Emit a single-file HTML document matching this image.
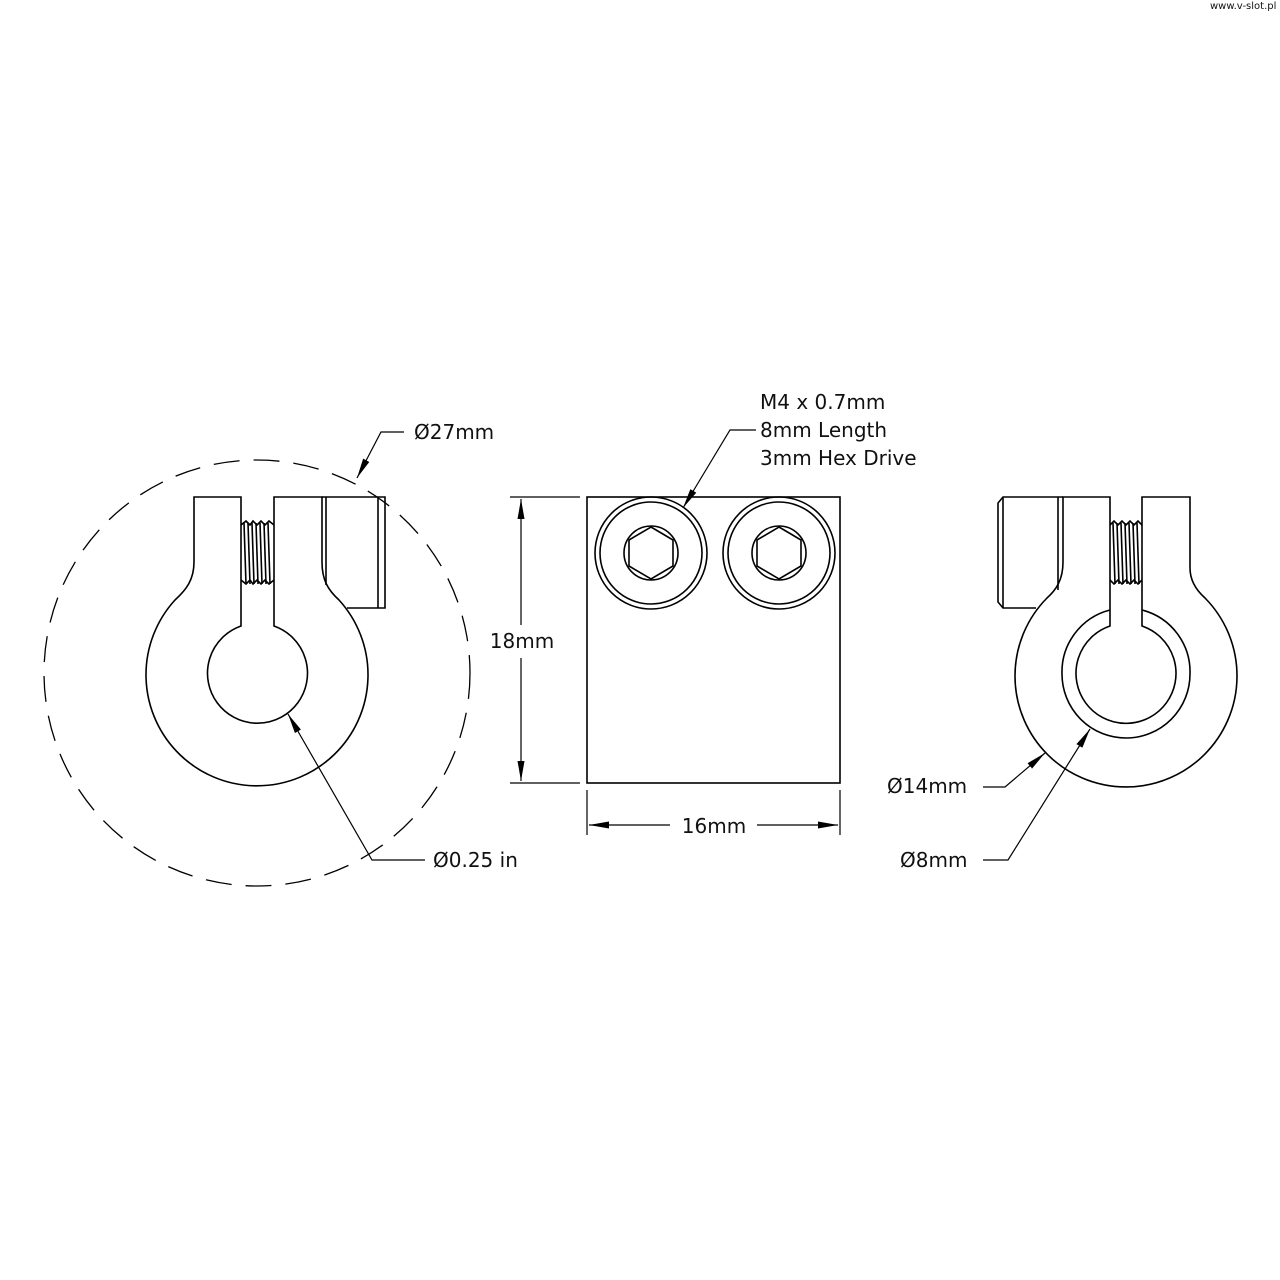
<!DOCTYPE html>
<html><head><style>
html,body{margin:0;padding:0;background:#fff}
svg{display:block}
text{font-family:"DejaVu Sans","Liberation Sans",sans-serif;font-size:20px;fill:#111}
</style></head><body>
<svg width="1280" height="1280" viewBox="0 0 1280 1280" xmlns="http://www.w3.org/2000/svg">
<defs>
<marker id="ar" viewBox="0 0 20 8" refX="20" refY="4" markerWidth="20" markerHeight="8" markerUnits="userSpaceOnUse" orient="auto"><path d="M0,0.5 L20,4 L0,7.5 z" fill="#000"/></marker>
</defs>
<text x="1210" y="9" style="font-size:10px">www.v-slot.pl</text>
<g fill="none" stroke="#000" stroke-width="1.6">
<!-- LEFT VIEW -->
<circle cx="257" cy="673" r="213" stroke-dasharray="26,14" stroke-width="1.3"/>
<path d="M194,497 L194,562 C194,580 186,590 175,600 A111,111 0 1 0 339,600 C328,590 322,580 322,562 L322,497 L274,497 L274,626 A50,50 0 1 1 241,626 L241,497 Z"/>
<path d="M322,497 L385,497 L385,608 L347,608"/>
<line x1="326" y1="497" x2="326" y2="585"/>
<line x1="378" y1="497" x2="378" y2="608"/>
<g stroke-width="1.6">
<path d="M241,525 L246,521 L250,525 L253,521 L257,525 L261,521 L265,525 L269,521 L274,525"/>
<path d="M241,580 L246,584 L250,580 L253,584 L257,580 L261,584 L265,580 L269,584 L274,580"/>
<line x1="244" y1="523" x2="246" y2="584"/><line x1="248" y1="523" x2="250" y2="584"/>
<line x1="252" y1="523" x2="254" y2="584"/><line x1="256" y1="523" x2="258" y2="584"/>
<line x1="260" y1="523" x2="262" y2="584"/><line x1="264" y1="523" x2="266" y2="584"/>
<line x1="268" y1="523" x2="270" y2="584"/>
</g>
<!-- MIDDLE VIEW -->
<rect x="587" y="497" width="253" height="286"/>
<g id="scr">
<circle cx="651" cy="553" r="56"/>
<circle cx="651" cy="553" r="51"/>
<circle cx="651" cy="553" r="27"/>
<polygon points="651,527 673,540 673,566 651,579 629,566 629,540"/>
</g>
<use href="#scr" x="128"/>
<line x1="510" y1="497" x2="580" y2="497" stroke-width="1.2"/>
<line x1="510" y1="783" x2="580" y2="783" stroke-width="1.2"/>
<line x1="521" y1="625" x2="521" y2="499" stroke-width="1.2" marker-end="url(#ar)"/>
<line x1="521" y1="658" x2="521" y2="781" stroke-width="1.2" marker-end="url(#ar)"/>
<line x1="587" y1="790" x2="587" y2="835" stroke-width="1.2"/>
<line x1="840" y1="790" x2="840" y2="835" stroke-width="1.2"/>
<line x1="670" y1="825" x2="589" y2="825" stroke-width="1.2" marker-end="url(#ar)"/>
<line x1="757" y1="825" x2="838" y2="825" stroke-width="1.2" marker-end="url(#ar)"/>
<polyline points="756,430 730,430 683,508" stroke-width="1.2" marker-end="url(#ar)"/>
<!-- left leaders -->
<polyline points="404,432 381,432 357,478" stroke-width="1.2" marker-end="url(#ar)"/>
<polyline points="425,860 372,860 288,714" stroke-width="1.2" marker-end="url(#ar)"/>
<!-- RIGHT VIEW -->
<path d="M1063,497 L1063,562 C1063,580 1056,590 1047,598 A111,111 0 1 0 1205,598 C1196,590 1190,580 1190,568 L1190,497 L1142,497 L1142,626 A50,50 0 1 1 1110,626 L1110,497 Z"/>
<path d="M1110,610 A64,64 0 0 0 1062,674 A64,64 0 0 0 1190,674 A64,64 0 0 0 1142,610"/>
<path d="M1063,497 L1003,497 L998,503 L998,602 L1003,608 L1036,608"/>
<line x1="1058" y1="497" x2="1058" y2="590"/>
<line x1="1003" y1="497" x2="1003" y2="608"/>
<g stroke-width="1.6">
<path d="M1110,525 L1114,521 L1118,525 L1122,521 L1126,525 L1130,521 L1134,525 L1138,521 L1142,525"/>
<path d="M1110,580 L1114,584 L1118,580 L1122,584 L1126,580 L1130,584 L1134,580 L1138,584 L1142,580"/>
<line x1="1113" y1="523" x2="1115" y2="584"/><line x1="1117" y1="523" x2="1119" y2="584"/>
<line x1="1121" y1="523" x2="1123" y2="584"/><line x1="1125" y1="523" x2="1127" y2="584"/>
<line x1="1129" y1="523" x2="1131" y2="584"/><line x1="1133" y1="523" x2="1135" y2="584"/>
<line x1="1137" y1="523" x2="1139" y2="584"/>
</g>
<polyline points="983,787 1005,787 1045,753" stroke-width="1.2" marker-end="url(#ar)"/>
<polyline points="983,860 1008,860 1090,729" stroke-width="1.2" marker-end="url(#ar)"/>
</g>
<text x="522" y="648" text-anchor="middle">18mm</text>
<text x="714" y="833" text-anchor="middle">16mm</text>
<text x="760" y="409">M4 x 0.7mm</text>
<text x="760" y="437">8mm Length</text>
<text x="760" y="465">3mm Hex Drive</text>
<text x="414" y="439">Ø27mm</text>
<text x="433" y="867">Ø0.25 in</text>
<text x="887" y="793">Ø14mm</text>
<text x="900" y="867">Ø8mm</text>
</svg>
</body></html>
